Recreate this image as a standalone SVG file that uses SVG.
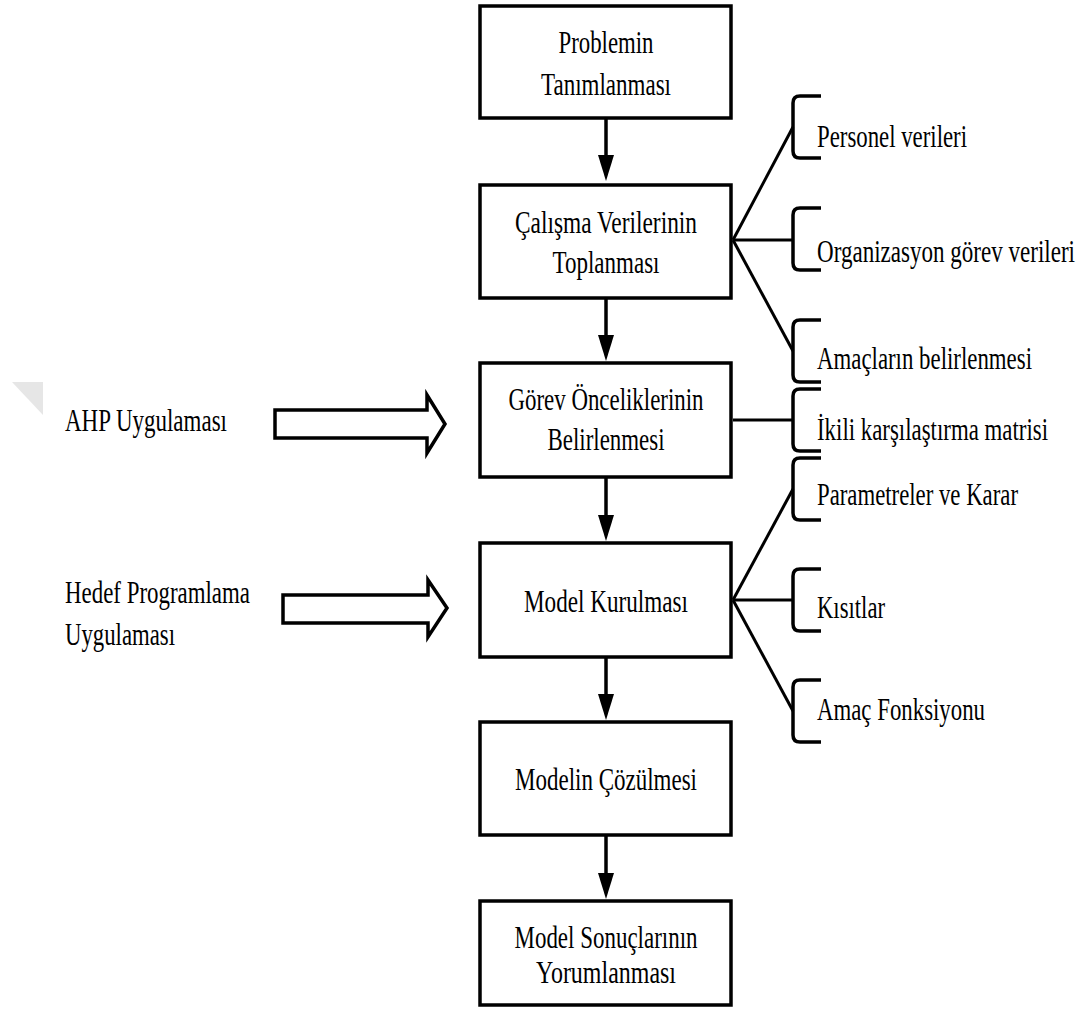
<svg xmlns="http://www.w3.org/2000/svg" width="1080" height="1016" viewBox="0 0 1080 1016">
  <style>
    .box { fill: #ffffff; stroke: #000000; stroke-width: 3.5; }
    .flow { stroke: #000000; stroke-width: 3.5; fill: none; }
    .branch { stroke: #000000; stroke-width: 3; fill: none; }
    .brace { stroke: #000000; stroke-width: 3.5; fill: none; stroke-linejoin: round; }
    .hollow { fill: #ffffff; stroke: #000000; stroke-width: 3.5; stroke-linejoin: miter; }
    text { font-family: "Liberation Serif", "Times New Roman", serif; font-size: 31px; fill: #000000; }
    .c { text-anchor: middle; }
  </style>
  <defs>
    <marker id="head" markerUnits="userSpaceOnUse" markerWidth="26" markerHeight="16" viewBox="0 0 26 16" refX="16" refY="8" orient="auto">
      <path d="M0,0 L26,8 L0,16 z" fill="#000000"/>
    </marker>
    <!-- bracket opening to the right, centred on 0,0 -->
    <path id="brace" class="brace" d="M28,-31 L7,-31 Q0,-31 0,-24 L0,24 Q0,31 7,31 L28,31"/>
  </defs>

  <rect width="1080" height="1016" fill="#ffffff"/>

  <!-- faint corner mark -->
  <polygon points="12,382 43,382 43,415" fill="#e6e6e6"/>

  <!-- connectors -->
  <g id="connectors">
    <line class="flow" x1="606" y1="118" x2="606" y2="171" marker-end="url(#head)"/>
    <line class="flow" x1="606" y1="298" x2="606" y2="351" marker-end="url(#head)"/>
    <line class="flow" x1="606" y1="477" x2="606" y2="531" marker-end="url(#head)"/>
    <line class="flow" x1="606" y1="657" x2="606" y2="710" marker-end="url(#head)"/>
    <line class="flow" x1="606" y1="835" x2="606" y2="889" marker-end="url(#head)"/>

    <!-- data branches -->
    <line class="branch" x1="733" y1="240" x2="793" y2="127"/>
    <line class="branch" x1="733" y1="240" x2="793" y2="240"/>
    <line class="branch" x1="733" y1="240" x2="793" y2="351"/>
    <line class="branch" x1="733" y1="420" x2="793" y2="420"/>
    <line class="branch" x1="733" y1="600" x2="793" y2="489"/>
    <line class="branch" x1="733" y1="600" x2="793" y2="600"/>
    <line class="branch" x1="733" y1="600" x2="793" y2="711"/>

    <!-- hollow input arrows -->
    <polygon class="hollow" points="275,410 427,410 427,395 445,424 427,453 427,438 275,438"/>
    <polygon class="hollow" points="283,595 428,595 428,580 447,608 428,637 428,623 283,623"/>
  </g>

  <!-- main process steps -->
  <g id="step-problem">
    <rect class="box" x="480" y="6" width="251" height="112"/>
    <text class="c" x="606" y="53" textLength="95" lengthAdjust="spacingAndGlyphs">Problemin</text>
    <text class="c" x="606" y="95" textLength="130" lengthAdjust="spacingAndGlyphs">Tanımlanması</text>
  </g>
  <g id="step-data">
    <rect class="box" x="480" y="185" width="251" height="113"/>
    <text class="c" x="606" y="233" textLength="182" lengthAdjust="spacingAndGlyphs">Çalışma Verilerinin</text>
    <text class="c" x="606" y="273" textLength="107" lengthAdjust="spacingAndGlyphs">Toplanması</text>
  </g>
  <g id="step-priorities">
    <rect class="box" x="480" y="363" width="251" height="114"/>
    <text class="c" x="606" y="410" textLength="195" lengthAdjust="spacingAndGlyphs">Görev Önceliklerinin</text>
    <text class="c" x="606" y="450" textLength="117" lengthAdjust="spacingAndGlyphs">Belirlenmesi</text>
  </g>
  <g id="step-model">
    <rect class="box" x="480" y="543" width="251" height="114"/>
    <text class="c" x="606" y="612" textLength="164" lengthAdjust="spacingAndGlyphs">Model Kurulması</text>
  </g>
  <g id="step-solve">
    <rect class="box" x="480" y="722" width="251" height="113"/>
    <text class="c" x="606" y="790" textLength="182" lengthAdjust="spacingAndGlyphs">Modelin Çözülmesi</text>
  </g>
  <g id="step-results">
    <rect class="box" x="480" y="901" width="251" height="104"/>
    <text class="c" x="606" y="948" textLength="183" lengthAdjust="spacingAndGlyphs">Model Sonuçlarının</text>
    <text class="c" x="606" y="983" textLength="140" lengthAdjust="spacingAndGlyphs">Yorumlanması</text>
  </g>

  <!-- inputs on the left -->
  <g id="input-ahp">
    <text x="65" y="431" textLength="162" lengthAdjust="spacingAndGlyphs">AHP Uygulaması</text>
  </g>
  <g id="input-goal-programming">
    <text x="65" y="603" textLength="185" lengthAdjust="spacingAndGlyphs">Hedef Programlama</text>
    <text x="65" y="645" textLength="110" lengthAdjust="spacingAndGlyphs">Uygulaması</text>
  </g>

  <!-- detail items on the right -->
  <g id="item-personel">
    <use href="#brace" x="793" y="127"/>
    <text x="817" y="147" textLength="150" lengthAdjust="spacingAndGlyphs">Personel verileri</text>
  </g>
  <g id="item-organizasyon">
    <use href="#brace" x="793" y="239"/>
    <text x="817" y="262" textLength="258" lengthAdjust="spacingAndGlyphs">Organizasyon görev verileri</text>
  </g>
  <g id="item-amaclar">
    <use href="#brace" x="793" y="351"/>
    <text x="817" y="369" textLength="215" lengthAdjust="spacingAndGlyphs">Amaçların belirlenmesi</text>
  </g>
  <g id="item-ikili">
    <use href="#brace" x="793" y="420"/>
    <text x="817" y="440" textLength="231" lengthAdjust="spacingAndGlyphs">İkili karşılaştırma matrisi</text>
  </g>
  <g id="item-parametreler">
    <use href="#brace" x="793" y="489"/>
    <text x="817" y="505" textLength="201" lengthAdjust="spacingAndGlyphs">Parametreler ve Karar</text>
  </g>
  <g id="item-kisitlar">
    <use href="#brace" x="793" y="600"/>
    <text x="817" y="618" textLength="68" lengthAdjust="spacingAndGlyphs">Kısıtlar</text>
  </g>
  <g id="item-amac-fonksiyonu">
    <use href="#brace" x="793" y="711"/>
    <text x="817" y="720" textLength="168" lengthAdjust="spacingAndGlyphs">Amaç Fonksiyonu</text>
  </g>
</svg>
